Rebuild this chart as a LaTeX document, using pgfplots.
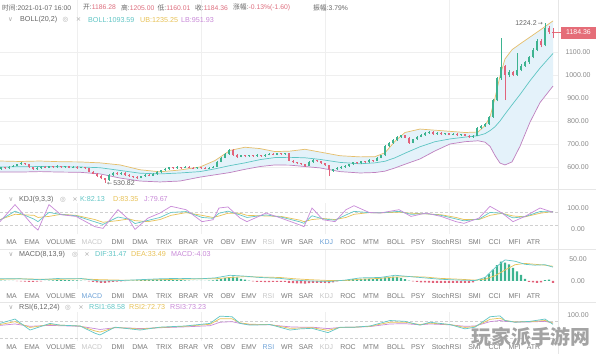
\documentclass[border=0pt]{standalone}
\usepackage{fontspec}
\setmainfont{Liberation Sans}
\newfontfamily\cjk{Noto Sans CJK SC}
\newfontfamily\sym{DejaVu Sans}
\usepackage{pgfplots}
\usepackage{pgfplotstable}
\pgfplotsset{compat=1.18}

\definecolor{upc}{HTML}{3DB390}
\definecolor{dnc}{HTML}{E2637B}
\definecolor{ubc}{HTML}{E6BE6A}
\definecolor{mbc}{HTML}{5EC5C3}
\definecolor{lbc}{HTML}{BF7FBF}
\definecolor{bandfill}{HTML}{E4F2FA}
\definecolor{kc}{HTML}{62C6C6}
\definecolor{dc}{HTML}{E8C257}
\definecolor{jc}{HTML}{C98AD8}
\definecolor{gridc}{HTML}{EFEFEF}
\definecolor{dashc}{HTML}{D0D0D0}
\definecolor{sepc}{HTML}{E6E6E6}
\definecolor{labc}{HTML}{666666}
\definecolor{axc}{HTML}{8A8A8A}
\definecolor{iconc}{HTML}{ABABAB}
\definecolor{tabc}{HTML}{7A7A7A}
\definecolor{tabl}{HTML}{C8C8C8}
\definecolor{tabb}{HTML}{6FA3D8}
\definecolor{pinkv}{HTML}{DE6E7E}
\definecolor{tagc}{HTML}{E56D78}
\definecolor{wm}{HTML}{A3A3A3}

\pgfplotstableread{
x o c h l
1 592 598 602 589
5 598 594 601 591
9 594 600 603 592
13 600 606 609 598
17 606 612 615 604
21 612 617 621 610
25 617 613 619 610
29 613 600 615 597
33 600 590 602 587
37 590 595 598 587
41 595 601 604 593
45 601 597 603 594
49 597 603 606 595
53 603 599 605 596
57 599 604 607 597
61 604 599 606 596
65 599 603 605 597
69 603 597 604 594
73 597 601 603 595
77 601 596 603 593
81 596 599 602 594
85 599 594 601 591
89 594 580 596 577
93 580 571 583 568
97 571 562 574 558
101 562 550 564 546
105 550 542 553 530.82
109 542 566 569 540
113 566 574 578 563
117 574 570 577 567
121 570 575 579 567
125 575 566 577 563
129 566 560 568 556
133 560 556 563 552
137 556 552 559 548
141 552 560 563 550
145 560 566 569 557
149 566 562 568 559
153 562 570 573 560
157 570 578 581 567
161 578 586 589 575
165 586 592 595 583
169 592 598 601 589
173 598 594 600 591
177 594 600 603 592
181 600 596 602 593
185 596 601 604 594
189 601 597 603 594
193 597 594 599 591
197 594 600 602 592
201 600 596 602 593
205 596 593 598 590
209 593 597 599 591
213 597 601 604 594
217 601 622 625 599
221 622 640 644 620
225 640 656 660 637
229 656 674 680 653
233 676 652 678 649
237 652 645 655 641
241 645 650 653 642
245 650 646 652 643
249 646 651 654 643
253 651 647 653 644
257 647 652 655 644
261 652 648 654 645
265 648 653 656 645
269 653 657 661 650
273 657 654 659 651
277 654 660 663 651
281 660 656 662 653
285 656 659 662 653
289 659 628 661 624
293 628 620 631 617
297 620 616 623 612
301 616 612 619 609
305 612 606 614 602
309 606 622 625 604
313 622 630 634 619
317 630 626 632 623
321 626 616 628 613
325 616 608 618 604
329 608 590 610 560
333 584 590 593 580
337 590 595 598 587
341 595 600 603 592
345 600 605 608 597
349 605 612 615 602
353 612 620 623 609
357 620 616 622 613
361 616 625 628 613
365 625 621 627 618
369 621 630 633 618
373 630 626 632 623
377 626 640 643 624
381 640 650 654 637
385 650 690 694 647
389 690 705 709 686
393 705 718 722 702
397 718 730 735 715
401 730 737 741 726
405 737 728 739 724
409 728 706 730 702
413 706 720 723 703
417 720 732 736 717
421 732 738 742 729
425 738 748 752 735
429 748 753 757 744
433 753 744 755 740
437 744 748 751 741
441 748 742 750 739
445 742 746 749 739
449 746 740 748 737
453 740 744 747 737
457 744 738 746 735
461 738 742 745 735
465 742 736 744 733
469 736 731 738 728
473 731 736 739 728
477 736 770 774 733
481 770 778 782 766
485 778 787 791 774
489 787 818 822 784
493 818 890 896 814
497 890 985 992 885
501 985 1035 1160 980
505 1040 1000 1045 891
509 1000 1013 1020 990
513 1013 1000 1018 995
517 1000 1022 1096 996
521 1022 1041 1046 1016
525 1041 1056 1061 1036
529 1056 1078 1084 1050
533 1078 1110 1116 1072
537 1110 1150 1156 1104
541 1150 1130 1158 1120
545 1130 1205 1224.2 1125
549 1205 1187 1212 1180
553 1186.28 1184.36 1205 1160.01
}\candles

\pgfplotstableread{
x u m l
0 626 600 578
20 624 601 578
40 626 602 580
60 623 601 578
80 622 600 577
100 618 597 570
120 609 585 552
140 588 573 539
160 579 570 535
180 587 574 539
200 600 580 556
215 628 592 566
230 672 606 576
245 686 618 590
260 680 632 602
275 667 641 609
290 669 642 608
305 677 640 602
320 665 633 596
340 649 620 580
360 644 614 574
375 645 618 576
385 662 625 582
395 712 640 596
405 750 660 612
420 765 688 635
435 760 710 670
450 755 722 700
465 750 730 710
478 752 736 714
485 780 745 708
490 818 758 690
495 900 775 650
500 995 800 617
505 1070 830 609
512 1110 870 622
520 1135 915 690
530 1165 975 795
540 1195 1030 880
553 1235.25 1093.59 951.93
}\bands

% band outline: upper band forward, lower band backward
\pgfplotstableread{
x y
0 626
20 624
40 626
60 623
80 622
100 618
120 609
140 588
160 579
180 587
200 600
215 628
230 672
245 686
260 680
275 667
290 669
305 677
320 665
340 649
360 644
375 645
385 662
395 712
405 750
420 765
435 760
450 755
465 750
478 752
485 780
490 818
495 900
500 995
505 1070
512 1110
520 1135
530 1165
540 1195
553 1235.25
553 951.93
540 880
530 795
520 690
512 622
505 609
500 617
495 650
490 690
485 708
478 714
465 710
450 700
435 670
420 635
405 612
395 596
385 582
375 576
360 574
340 580
320 596
305 602
290 608
275 609
260 602
245 590
230 576
215 566
200 556
180 539
160 535
140 539
120 552
100 570
80 577
60 578
40 580
20 578
0 578
}\bandpoly

\pgfplotstableread{
x j k d
0 35 42 45
15 116 85 70
34 11 47 65
38 -5 35 55
49 116 79 60
61 68 69 70
76 60 63 65
95 11 34 45
103 3 22 32
118 92 57 40
129 44 47 48
135 -2 26 40
148 52 41 35
160 76 55 45
171 108 79 65
186 92 83 78
202 35 55 65
213 44 51 55
219 100 75 62
228 105 85 75
240 52 67 75
247 35 55 65
266 76 67 62
281 52 57 60
300 19 34 42
304 11 27 35
312 100 63 45
323 44 48 50
335 35 42 45
346 92 67 55
354 111 84 70
369 79 78 78
380 76 77 77
399 92 84 80
411 60 70 75
426 76 73 72
441 60 65 68
456 35 48 55
464 27 39 45
479 52 47 45
490 108 79 65
502 76 75 75
513 35 53 62
525 60 59 58
540 100 83 75
553 79.67 82.13 83.35
}\kdj

\pgfplotstableread{
x dif dea
0 5 4
20 5 5
40 3 4
60 6 4
80 6 5
100 0 3
120 1 2
140 3 2
160 5 3
180 6 4
200 5 5
215 7 5
230 13 8
245 11 10
260 8 9
280 6 8
295 2 5
310 0 3
330 -1 1
345 2 1
360 7 4
380 8 6
395 13 9
410 10 10
425 7 9
440 4 6
460 2 4
475 1 2
485 8 4
495 30 12
505 48 25
515 45 37
525 38 40
535 36 38
545 37 36
553 31.47 33.49
}\macd

\pgfplotstableread{
x m
1 1
5 1
9 0.5
13 0.3
17 -0.5
21 -1
25 -1.5
29 -2
33 -2
37 -1.5
41 -1
45 0.5
49 1
53 1.5
57 2
61 2.5
65 2.5
69 2
73 1.5
77 1.5
81 1
85 0.5
89 -1
93 -2
97 -3
101 -4
105 -4.5
109 -3
113 -2
117 -1.5
121 -1
125 -0.5
129 0.5
133 1
137 1.5
141 2
145 2.5
149 3
153 3
157 3
161 3.5
165 3.5
169 3
173 2.5
177 2
181 2
185 1.5
189 1
193 0.5
197 0.5
201 0.5
205 0.5
209 1
213 1.5
217 3
221 5
225 7
229 9
233 10
237 8
241 5
245 3
249 1
253 -1
257 -2
261 -2
265 -2.5
269 -2.5
273 -2
277 -2
281 -2
285 -2
289 -4
293 -5
297 -5.5
301 -5.5
305 -6
309 -5
313 -4
317 -4
321 -4
325 -4
329 -5
333 -3
337 -1
341 1
345 2
349 3
353 4
357 4.5
361 5
365 5
369 5
373 4.5
377 5
381 6
385 8
389 9
393 10
397 9
401 7
405 4
409 1
413 -1
417 -2
421 -3
425 -3
429 -3.5
433 -4
437 -4
441 -4
445 -4.5
449 -4.5
453 -4
457 -4
461 -4
465 -4
469 -4
473 -3
477 1
481 4
485 8
489 16
493 26
497 36
501 44
505 42
509 38
513 30
517 22
521 14
525 5
529 -2
533 -3
537 -4
541 -3
545 2
549 3
553 -4.03
}\hist

\pgfplotstableread{
x r1 r2 r3
0 72 68 65
15 87 78 70
30 49 58 62
50 72 68 65
60 66 66 64
80 63 63 62
95 38 46 54
100 32 42 51
115 59 58 57
130 53 55 56
140 49 52 54
160 59 58 57
185 63 62 60
210 72 69 64
220 97 88 76
232 95 88 78
240 72 74 72
250 66 69 68
270 68 68 67
290 49 55 60
300 53 56 59
312 55 57 59
328 40 48 54
340 59 58 58
355 59 59 59
370 63 62 61
390 82 76 70
405 79 76 71
420 66 68 67
430 76 73 70
450 68 68 67
465 53 58 62
475 59 61 63
490 95 86 78
500 98 90 82
505 82 82 79
515 76 77 77
530 79 78 77
545 87 82 79
553 68.58 72.73 73.23
}\rsi

\pgfplotsset{panel/.style={
  scale only axis, width=558bp, xmin=0, xmax=558,
  axis line style={draw=none}, tick style={draw=none},
  xtick={77,201,325,449}, xticklabels={}, xmajorgrids,
  major grid style={draw=gridc, line width=0.5bp},
  yticklabel pos=right,
  yticklabel style={font=\fontsize{7}{8}\selectfont, text=axc, anchor=center, xshift=20bp},
  /pgf/number format/fixed, /pgf/number format/fixed zerofill,
  /pgf/number format/precision=2, /pgf/number format/1000 sep={},
  /pgf/number format/assume math mode=true,
}}

\tikzset{
  hd1/.style={anchor=west, inner sep=0pt, font=\fontsize{6.8}{8}\selectfont, text=labc},
  hd/.style={anchor=west, inner sep=0pt, font=\fontsize{7.2}{8.5}\selectfont, text=labc},
  ic/.style={anchor=center, inner sep=0pt, font=\sym\fontsize{6.5}{8}\selectfont, text=iconc},
  tb/.style={anchor=center, inner sep=0pt, font=\fontsize{7}{8}\selectfont, text=tabc},
}

\newcommand{\tabrow}[4]{%
  \foreach \n/\xx in {MA/11.5, EMA/32, VOLUME/61, DMI/118, DMA/140, TRIX/164, BRAR/188.5, VR/208.5, OBV/228, EMV/249, WR/287, SAR/306, ROC/348, MTM/371, BOLL/396, PSY/418, StochRSI/446.5, SMI/474.5, CCI/494.5, MFI/514.5, ATR/533.5}
    {\node[tb] at (\xx bp,-#1 bp) {\n};}
  \node[tb, text=#2] at (92bp,-#1 bp) {MACD};
  \node[tb, text=#3] at (268.5bp,-#1 bp) {RSI};
  \node[tb, text=#4] at (326.5bp,-#1 bp) {KDJ};
}

\begin{document}
\begin{tikzpicture}
\useasboundingbox (0,0) rectangle (596bp,-354bp);
\fill[white] (0,0) rectangle (596bp,-354bp);

% ---------- price panel ----------
\begin{axis}[panel, at={(0bp,0bp)}, anchor=north west, height=189bp,
  ymin=504.3, ymax=1326.1, ytick={600,700,800,900,1000,1100}, ymajorgrids]
\addplot[fill=bandfill, draw=none] table[x=x,y=y]{\bandpoly};
\addplot[ubc, line width=0.7bp] table[x=x,y=u]{\bands};
\addplot[mbc, line width=0.7bp] table[x=x,y=m]{\bands};
\addplot[lbc, line width=0.7bp] table[x=x,y=l]{\bands};
% wicks
\addplot[upc, line width=0.6bp, restrict expr to domain={\thisrow{c}-\thisrow{o}}{0:100000},
  quiver={u=0, v=\thisrow{h}-\thisrow{l}}] table[x=x, y=l]{\candles};
\addplot[dnc, line width=0.6bp, restrict expr to domain={\thisrow{c}-\thisrow{o}}{-100000:0},
  quiver={u=0, v=\thisrow{h}-\thisrow{l}}] table[x=x, y=l]{\candles};
% bodies
\addplot[upc, line width=2.4bp, restrict expr to domain={\thisrow{c}-\thisrow{o}}{0:100000},
  quiver={u=0, v=\thisrow{c}-\thisrow{o}}] table[x=x, y=o]{\candles};
\addplot[dnc, line width=2.4bp, restrict expr to domain={\thisrow{c}-\thisrow{o}}{-100000:0},
  quiver={u=0, v=\thisrow{o}-\thisrow{c}}] table[x=x, y=c]{\candles};
\node[anchor=east, inner sep=0pt, font=\fontsize{7}{8}\selectfont, text=labc] at (axis cs:543,1224.2) {1224.2\,{\sym\fontsize{6}{6}\selectfont →}};
\node[anchor=west, inner sep=0pt, font=\fontsize{7}{8}\selectfont, text=labc] at (axis cs:107,530.82) {{\sym\fontsize{6}{6}\selectfont ←}\,530.82};
\end{axis}

% ---------- KDJ panel ----------
\begin{axis}[panel, at={(0bp,-203bp)}, anchor=north west, height=31bp,
  ymin=-23.8, ymax=123.8, ytick={0,100}]
\draw[dashc, dash pattern=on 3bp off 2bp, line width=0.5bp] (axis cs:0,80) -- (axis cs:558,80);
\draw[dashc, dash pattern=on 3bp off 2bp, line width=0.5bp] (axis cs:0,20) -- (axis cs:558,20);
\addplot[dc, line width=0.7bp] table[x=x,y=d]{\kdj};
\addplot[kc, line width=0.7bp] table[x=x,y=k]{\kdj};
\addplot[jc, line width=0.7bp] table[x=x,y=j]{\kdj};
\end{axis}

% ---------- MACD panel ----------
\begin{axis}[panel, at={(0bp,-250bp)}, anchor=north west, height=39bp,
  ymin=-18.2, ymax=70.5, ytick={0,50}]
\addplot[ybar, bar width=2.2bp, bar shift=0pt, fill=upc, draw=none, restrict y to domain=0:1000] table[x=x,y=m]{\hist};
\addplot[ybar, bar width=2.2bp, bar shift=0pt, fill=dnc, draw=none, restrict y to domain=-1000:0] table[x=x,y=m]{\hist};
\addplot[dc, line width=0.7bp] table[x=x,y=dea]{\macd};
\addplot[kc, line width=0.7bp] table[x=x,y=dif]{\macd};
\end{axis}

% ---------- RSI panel ----------
\begin{axis}[panel, at={(0bp,-312bp)}, anchor=north west, height=29bp,
  ymin=11.1, ymax=111.4, ytick={100}]
\draw[dashc, dash pattern=on 3bp off 2bp, line width=0.5bp] (axis cs:0,80) -- (axis cs:558,80);
\draw[dashc, dash pattern=on 3bp off 2bp, line width=0.5bp] (axis cs:0,20) -- (axis cs:558,20);
\addplot[jc, line width=0.7bp] table[x=x,y=r3]{\rsi};
\addplot[dc, line width=0.7bp] table[x=x,y=r2]{\rsi};
\addplot[kc, line width=0.7bp] table[x=x,y=r1]{\rsi};
\end{axis}

% separators
\draw[sepc, line width=0.6bp] (558bp,0) -- (558bp,-354bp);
\draw[sepc, line width=0.6bp] (0,-189.5bp) -- (596bp,-189.5bp);
\draw[sepc, line width=0.6bp] (0,-249.5bp) -- (596bp,-249.5bp);
\draw[sepc, line width=0.6bp] (0,-302.5bp) -- (596bp,-302.5bp);

% price tag
\draw[tagc, line width=0.6bp] (554bp,-32.5bp) -- (561bp,-32.5bp);
\fill[tagc] (561bp,-26.5bp) rectangle (596bp,-38.5bp);
\node[anchor=center, inner sep=0pt, font=\fontsize{7}{8}\selectfont, text=white] at (578.5bp,-32.5bp) {1184.36};

% header line 1
\node[hd1] at (2bp,-7.5bp) {{\cjk 时间}:2021-01-07 16:00};
\node[hd1] at (83bp,-7.5bp) {{\cjk 开}:\textcolor{pinkv}{1186.28}};
\node[hd1] at (121bp,-7.5bp) {{\cjk 高}:\textcolor{pinkv}{1205.00}};
\node[hd1] at (157.5bp,-7.5bp) {{\cjk 低}:\textcolor{pinkv}{1160.01}};
\node[hd1] at (195bp,-7.5bp) {{\cjk 收}:\textcolor{pinkv}{1184.36}};
\node[hd1] at (233bp,-7.5bp) {{\cjk 涨幅}:\textcolor{pinkv}{-0.13\%(-1.60)}};
\node[hd1] at (313bp,-7.5bp) {{\cjk 振幅}:3.79\%};

% BOLL header
\node[ic] at (10.5bp,-20bp) {∨};
\node[hd] at (20bp,-20bp) {BOLL(20,2)};
\node[ic] at (65.5bp,-20bp) {◎};
\node[ic] at (78.5bp,-20bp) {×};
\node[hd, text=kc] at (88bp,-20bp) {BOLL:1093.59};
\node[hd, text=dc] at (140bp,-20bp) {UB:1235.25};
\node[hd, text=jc] at (181bp,-20bp) {LB:951.93};

% KDJ header
\node[ic] at (11bp,-199.5bp) {∨};
\node[hd] at (19bp,-199.5bp) {KDJ(9,3,3)};
\node[ic] at (63bp,-199.5bp) {◎};
\node[ic] at (75bp,-199.5bp) {×};
\node[hd, text=kc] at (80bp,-199.5bp) {K:82.13};
\node[hd, text=dc] at (113bp,-199.5bp) {D:83.35};
\node[hd, text=jc] at (144bp,-199.5bp) {J:79.67};

% MACD header
\node[ic] at (11bp,-254.5bp) {∨};
\node[hd] at (19bp,-254.5bp) {MACD(8,13,9)};
\node[ic] at (75bp,-254.5bp) {◎};
\node[ic] at (87bp,-254.5bp) {×};
\node[hd, text=kc] at (95bp,-254.5bp) {DIF:31.47};
\node[hd, text=dc] at (131bp,-254.5bp) {DEA:33.49};
\node[hd, text=jc] at (171bp,-254.5bp) {MACD:-4.03};

% RSI header
\node[ic] at (11bp,-307.5bp) {∨};
\node[hd] at (19bp,-307.5bp) {RSI(6,12,24)};
\node[ic] at (68bp,-307.5bp) {◎};
\node[ic] at (81bp,-307.5bp) {×};
\node[hd, text=kc] at (89bp,-307.5bp) {RSI1:68.58};
\node[hd, text=dc] at (129bp,-307.5bp) {RSI2:72.73};
\node[hd, text=jc] at (170bp,-307.5bp) {RSI3:73.23};

% tab rows
\tabrow{242}{tabl}{tabl}{tabb}
\tabrow{296}{tabb}{tabl}{tabl}
\tabrow{347.5}{tabl}{tabb}{tabl}

% watermark
\node[anchor=center, inner sep=0pt, font=\cjk\bfseries\fontsize{20}{22}\selectfont, text=wm] at (531bp,-337bp) {玩家派手游网};
\end{tikzpicture}
\end{document}
